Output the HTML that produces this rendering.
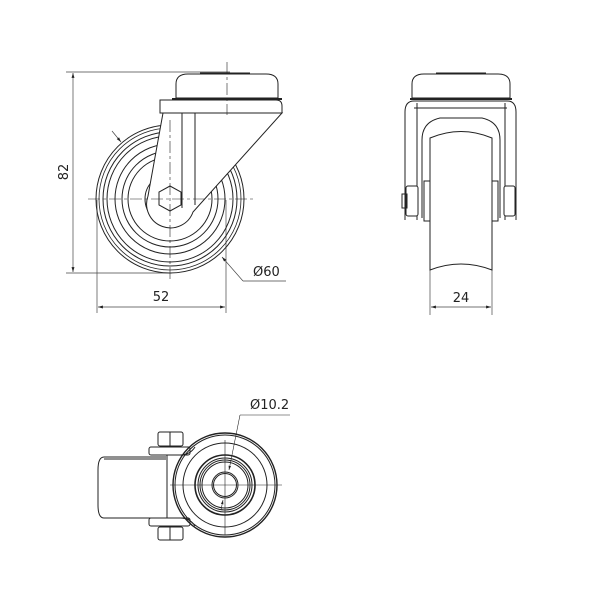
<!DOCTYPE html>
<html><head><meta charset="utf-8"><style>
html,body{margin:0;padding:0;background:#fff}
svg{display:block}
text{font-family:"DejaVu Sans","Liberation Sans",sans-serif;font-size:13px;fill:#222}
</style></head><body>
<svg width="600" height="600" viewBox="0 0 600 600" xmlns="http://www.w3.org/2000/svg">
<defs>
<marker id="a" viewBox="0 0 10 10" refX="10" refY="5" markerWidth="7" markerHeight="7" orient="auto-start-reverse"><path d="M0,2 L10,5 L0,8 z" fill="#222"/></marker>
</defs>
<g fill="none" stroke="#222" stroke-width="1">
<!-- SIDE VIEW -->
<g stroke-width="0.7" stroke="#444">
<line x1="66" y1="72" x2="230" y2="72"/>
<line x1="66" y1="273" x2="172" y2="273"/>
<line x1="97" y1="200" x2="97" y2="313"/>
<line x1="226" y1="200" x2="226" y2="313"/>
<line x1="73" y1="73" x2="73" y2="272" marker-start="url(#a)" marker-end="url(#a)"/>
<line x1="98" y1="307" x2="225" y2="307" marker-start="url(#a)" marker-end="url(#a)"/>
<line x1="243" y1="281" x2="222" y2="257" marker-end="url(#a)"/>
<line x1="243" y1="281" x2="286" y2="281"/>
<line x1="112" y1="131" x2="121" y2="142" marker-end="url(#a)"/>
</g>
<circle cx="170" cy="199" r="74"/>
<circle cx="170" cy="199" r="71" stroke-width="0.8"/>
<circle cx="170" cy="199" r="67"/>
<circle cx="170" cy="199" r="63"/>
<circle cx="170" cy="199" r="55"/>
<circle cx="170" cy="199" r="48"/>
<circle cx="170" cy="199" r="42"/>
<circle cx="170" cy="199" r="25"/>
<circle cx="170" cy="199" r="22"/>
<!-- bracket -->
<path d="M163,113 L148,196 A23,23 0 0 0 193,212 L282,113 Z" fill="#fff"/>
<line x1="182" y1="113" x2="182" y2="208"/>
<line x1="195" y1="113" x2="195" y2="205"/>
<path d="M160,100 H276 Q282,100 282,106 V113 H160 Z" fill="#fff"/>
<path d="M176,98 V84 Q176,74 188,74 H266 Q278,74 278,84 V98 Z" fill="#fff"/>
<line x1="200" y1="73.5" x2="250" y2="73.5" stroke-width="2"/>
<line x1="172" y1="99" x2="282" y2="99" stroke-width="2"/>
<polygon points="170,186 181,192 181,205 170,211 159,205 159,192" fill="#fff"/>
<g stroke-width="0.6" stroke-dasharray="12,3,3,3">
<line x1="88" y1="199" x2="255" y2="199"/>
<line x1="170" y1="120" x2="170" y2="280"/>
<line x1="227" y1="62" x2="227" y2="115"/>
</g>

<!-- FRONT VIEW -->
<g stroke-width="0.7" stroke="#444">
<line x1="430" y1="265" x2="430" y2="315"/>
<line x1="492" y1="265" x2="492" y2="315"/>
<line x1="431" y1="307" x2="491" y2="307" marker-start="url(#a)" marker-end="url(#a)"/>
</g>
<path d="M405,220 V112 Q405,101 414,101 H507 Q516,101 516,112 V220" />
<path d="M417,220 V103 M505,220 V103"/>
<line x1="414" y1="108" x2="507" y2="108"/>
<path d="M422,218 V140 Q422,122 440,118 H482 Q500,122 500,140 V218"/>
<path d="M430,270 V138 Q461,125 492,138 V270 Q461,258 430,270 Z" fill="#fff"/>
<rect x="424" y="181" width="6" height="40"/>
<rect x="492" y="181" width="6" height="40"/>
<rect x="406" y="186" width="12" height="30" rx="2" fill="#fff"/>
<rect x="402" y="194" width="5" height="14"/>
<rect x="504" y="186" width="11" height="30" rx="2" fill="#fff"/>
<path d="M412,98 V84 Q412,74 424,74 H498 Q510,74 510,84 V98 Z" fill="#fff"/>
<line x1="436" y1="73.5" x2="486" y2="73.5" stroke-width="2"/>
<line x1="410" y1="99" x2="512" y2="99" stroke-width="2"/>

<!-- BOTTOM VIEW -->
<path d="M166,457 H104 Q98,457 98,470 V505 Q98,518 104,518 H166"/>
<line x1="104" y1="459" x2="166" y2="459"/>
<rect x="149" y="447" width="41" height="8" rx="2" fill="#fff"/>
<rect x="149" y="518" width="41" height="8" rx="2" fill="#fff"/>
<rect x="158" y="432" width="25" height="14" rx="2" fill="#fff"/>
<line x1="170" y1="432" x2="170" y2="446"/>
<rect x="158" y="527" width="25" height="13" rx="2" fill="#fff"/>
<line x1="170" y1="527" x2="170" y2="540"/>
<line x1="167" y1="455" x2="167" y2="518"/>
<path d="M180,455 Q190,455 195,447"/>
<path d="M180,518 Q190,518 195,526"/>
<circle cx="225" cy="485" r="52" stroke-width="1.4"/>
<circle cx="225" cy="485" r="50"/>
<circle cx="225" cy="485" r="42"/>
<circle cx="225" cy="485" r="30" stroke-width="1.6"/>
<circle cx="225" cy="485" r="27"/>
<circle cx="225" cy="485" r="25"/>
<circle cx="225" cy="485" r="23"/>
<circle cx="225" cy="485" r="13"/>
<circle cx="225" cy="485" r="11.5"/>
<g stroke-width="0.6">
<line x1="170" y1="485" x2="282" y2="485"/>
<line x1="225" y1="440" x2="225" y2="535"/>
<line x1="240" y1="415" x2="290" y2="415"/>
<line x1="240" y1="415" x2="229" y2="470" marker-end="url(#a)"/>
<line x1="221" y1="510" x2="223" y2="500" marker-end="url(#a)"/>
</g>
</g>
<text x="68" y="172" text-anchor="middle" transform="rotate(-90 68 172)" dy="0">82</text>
<text x="161" y="301" text-anchor="middle">52</text>
<text x="253" y="276">Ø60</text>
<text x="461" y="302" text-anchor="middle">24</text>
<text x="250" y="409">Ø10.2</text>
</svg>
</body></html>
